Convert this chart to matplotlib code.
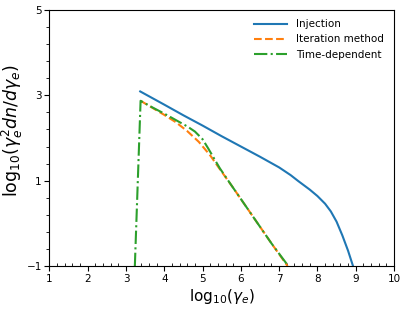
import matplotlib
matplotlib.use("Agg")
import matplotlib.pyplot as plt
from matplotlib.ticker import AutoMinorLocator

# Injection spectrum
inj_x = [3.37, 4.0, 4.5, 5.0, 5.5, 6.0, 6.5, 7.0, 7.3, 7.5, 7.8, 8.0, 8.2, 8.35, 8.5, 8.65, 8.8, 8.93]
inj_y = [3.09, 2.78, 2.53, 2.29, 2.04, 1.80, 1.56, 1.31, 1.13, 0.99, 0.79, 0.64, 0.46, 0.28, 0.04, -0.28, -0.64, -1.0]

# Iteration method
it_x = [3.38, 3.7, 4.0, 4.3, 4.6, 4.9, 5.2, 5.45, 5.8, 6.3, 6.8, 7.22]
it_y = [2.87, 2.70, 2.54, 2.37, 2.16, 1.91, 1.59, 1.27, 0.83, 0.18, -0.47, -1.0]

# Time-dependent
td_x = [3.23, 3.38, 3.7, 4.0, 4.3, 4.6, 4.8, 5.0, 5.15, 5.3, 5.45, 5.8, 6.3, 6.8, 7.24]
td_y = [-1.0, 2.87, 2.71, 2.57, 2.42, 2.27, 2.15, 1.97, 1.75, 1.52, 1.29, 0.83, 0.18, -0.47, -1.0]

xticks = [1, 2, 3, 4, 5, 6, 7, 8, 9, 10]
yticks = [-1, 1, 3, 5]

fig = plt.figure(figsize=(4.07, 3.09), dpi=100)
ax = fig.add_axes([0.1216, 0.139, 0.8464, 0.829])

ax.plot(inj_x, inj_y, color='#1f77b4', lw=1.5, ls='-', label='Injection')
ax.plot(it_x, it_y, color='#ff7f0e', lw=1.5, ls='--', label='Iteration method')
ax.plot(td_x, td_y, color='#2ca02c', lw=1.5, ls='-.', label='Time-dependent')

ax.set_xlim(1, 10)
ax.set_ylim(-1, 5)
ax.set_xticks(xticks)
ax.set_yticks(yticks)
ax.xaxis.set_minor_locator(AutoMinorLocator(5))
ax.yaxis.set_minor_locator(AutoMinorLocator(5))
ax.tick_params(axis='both', which='major', labelsize=7.5, length=3.5, width=0.8, pad=2)
ax.tick_params(axis='x', which='minor', direction='in', length=2, width=0.6)
ax.tick_params(axis='y', which='minor', length=2, width=0.6)

ax.set_xlabel(r'$\mathrm{log}_{10}(\gamma_e)$', fontsize=11)
ax.xaxis.set_label_coords(0.5, -0.08)
ax.set_ylabel(r'$\mathrm{log}_{10}(\gamma_e^2dn/d\gamma_e)$', fontsize=12.5)
ax.yaxis.set_label_coords(-0.072, 0.53)

ax.legend(loc='upper right', frameon=False, fontsize=7.5, handlelength=3.2,
          bbox_to_anchor=(0.997, 1.0))

fig.savefig('out.png', dpi=100)
